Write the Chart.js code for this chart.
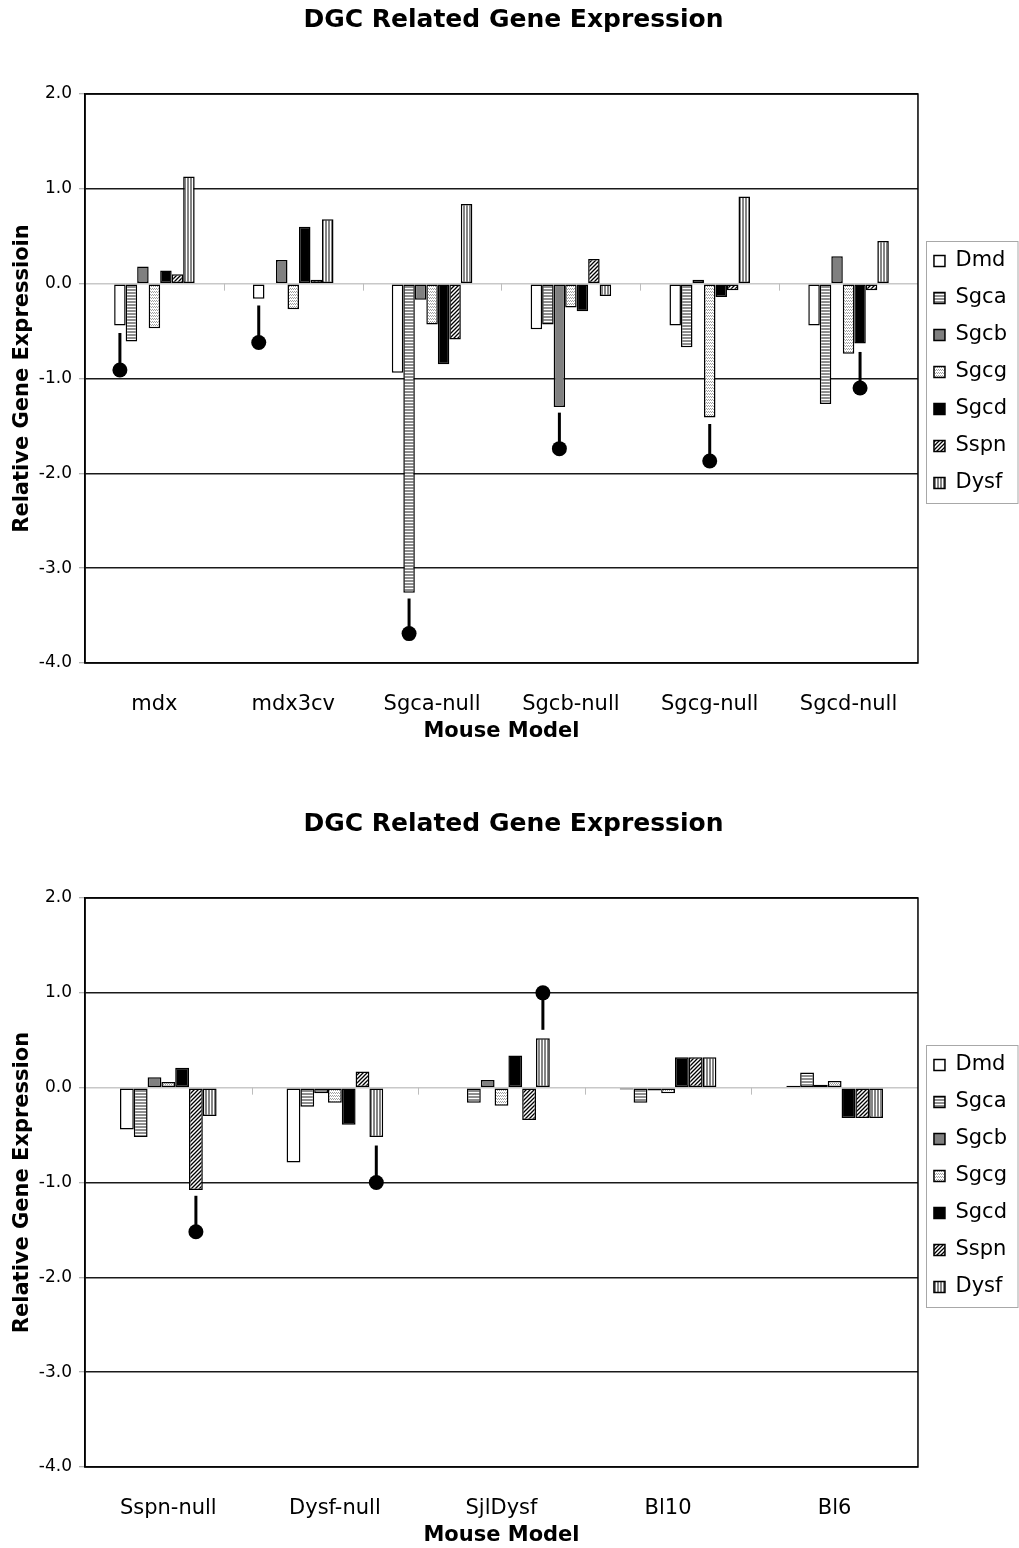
<!DOCTYPE html>
<html>
<head>
<meta charset="utf-8">
<script src="https://cdn.jsdelivr.net/npm/chart.js@4/dist/chart.umd.min.js"></script>
<style>
  html, body { margin: 0; padding: 0; background: #fff; overflow: hidden; }
  canvas { position: absolute; left: 0; }
</style>
</head>
<body>
<canvas id="topChart" width="1019" height="744" style="top:0"></canvas>
<canvas id="bottomChart" width="1019" height="744" style="top:804px"></canvas>
<script>
// gene series shown in each group
const genes = ['Dmd', 'Sgca', 'Sgcb', 'Sgcg', 'Sgcd', 'Sspn', 'Dysf'];

// y axis range / ticks
const yMin = -4;
const yMax = 2;
const yStep = 1;

// upper chart
const topCategories = ['mdx', 'mdx3cv', 'Sgca-null', 'Sgcb-null', 'Sgcg-null', 'Sgcd-null'];
const topDmd  = [-0.44, -0.16, -0.94, -0.48, -0.44, -0.44];
const topSgca = [-0.61,  0.00, -3.26, -0.43, -0.67, -1.27];
const topSgcb = [ 0.18,  0.25, -0.17, -1.30,  0.04,  0.29];
const topSgcg = [-0.47, -0.27, -0.43, -0.25, -1.41, -0.74];
const topSgcd = [ 0.14,  0.60, -0.85, -0.29, -0.14, -0.63];
const topSspn = [ 0.10,  0.04, -0.59,  0.26, -0.07, -0.07];
const topDysf = [ 1.13,  0.68,  0.84, -0.13,  0.92,  0.45];
// lollipop markers: which gene bar they hang from, dot value, where the stem starts
const topMarkerGene  = [0, 0, 1, 2, 3, 4];
const topMarkerValue = [-0.91, -0.62, -3.69, -1.74, -1.87, -1.10];
const topMarkerStart = [-0.52, -0.23, -3.32, -1.36, -1.48, -0.72];

// lower chart
const bottomCategories = ['Sspn-null', 'Dysf-null', 'SjlDysf', 'Bl10', 'Bl6'];
const bottomDmd  = [-0.44, -0.79,  0.00, -0.02,  0.02];
const bottomSgca = [-0.52, -0.20, -0.16, -0.16,  0.16];
const bottomSgcb = [ 0.11, -0.06,  0.08, -0.03,  0.03];
const bottomSgcg = [ 0.06, -0.16, -0.19, -0.06,  0.07];
const bottomSgcd = [ 0.21, -0.39,  0.34,  0.32, -0.32];
const bottomSspn = [-1.08,  0.17, -0.34,  0.32, -0.32];
const bottomDysf = [-0.30, -0.52,  0.52,  0.32, -0.32];
const bottomMarkerGene  = [5, 6, 6, -1, -1];
const bottomMarkerValue = [-1.52, -1.00, 1.00, null, null];
const bottomMarkerStart = [-1.14, -0.61, 0.61, null, null];

Chart.defaults.font.family = 'DejaVu Sans';
Chart.defaults.color = '#000';

function tile(ctx, w, h, draw) {
  const c = document.createElement('canvas');
  c.width = w; c.height = h;
  const g = c.getContext('2d');
  g.fillStyle = '#fff';
  g.fillRect(0, 0, w, h);
  draw(g);
  return ctx.createPattern(c, 'repeat');
}

function fills(ctx) {
  return [
    '#ffffff',
    tile(ctx, 1, 3, g => { g.fillStyle = '#8e8e8e'; g.fillRect(0, 1, 1, 2); }),
    '#808080',
    tile(ctx, 4, 3, g => {
      g.fillStyle = '#a0a0a0';
      g.fillRect(0, 0, 1, 1); g.fillRect(1, 1, 1, 1); g.fillRect(2, 0, 1, 1); g.fillRect(3, 1, 1, 1);
    }),
    '#000000',
    tile(ctx, 4, 4, g => {
      g.strokeStyle = '#000'; g.lineWidth = 1.3;
      g.beginPath();
      g.moveTo(-1, 5); g.lineTo(5, -1);
      g.moveTo(-1, 1); g.lineTo(1, -1);
      g.moveTo(3, 5); g.lineTo(5, 3);
      g.stroke();
    }),
    tile(ctx, 3, 1, g => { g.fillStyle = '#848484'; g.fillRect(1, 0, 2, 1); })
  ];
}

const framePlugin = {
  id: 'frame',
  beforeDatasetsDraw(chart) {
    const {ctx, scales: {x, y}} = chart;
    const y0 = y.getPixelForValue(0);
    ctx.save();
    ctx.strokeStyle = '#bdbdbd';
    ctx.lineWidth = 1;
    for (let i = 1; i < chart.data.labels.length; i++) {
      const px = Math.round((x.getPixelForValue(i - 1) + x.getPixelForValue(i)) / 2) + 0.5;
      ctx.beginPath();
      ctx.moveTo(px, y0);
      ctx.lineTo(px, y0 + 7);
      ctx.stroke();
    }
    ctx.restore();
  },
  afterDatasetsDraw(chart, args, opts) {
    const {ctx, chartArea: a, scales: {y}} = chart;
    ctx.save();
    ctx.strokeStyle = '#000';
    ctx.lineWidth = 1.5;
    ctx.strokeRect(a.left, a.top, a.right - a.left, a.bottom - a.top);
    // lollipop markers
    ctx.fillStyle = '#000';
    opts.gene.forEach((g, i) => {
      if (g < 0) return;
      const bar = chart.getDatasetMeta(g).data[i];
      const yDot = y.getPixelForValue(opts.value[i]);
      const yStart = y.getPixelForValue(opts.start[i]);
      ctx.lineWidth = 3;
      ctx.beginPath();
      ctx.moveTo(bar.x, yStart);
      ctx.lineTo(bar.x, yDot);
      ctx.stroke();
      ctx.beginPath();
      ctx.arc(bar.x, yDot, 7.5, 0, Math.PI * 2);
      ctx.fill();
    });
    ctx.restore();
  },
  afterDraw(chart) {
    const lg = chart.legend;
    const hb = lg.legendHitBoxes;
    if (!hb || !hb.length) return;
    const {ctx} = chart;
    const first = hb[0];
    const last = hb[hb.length - 1];
    ctx.save();
    ctx.strokeStyle = '#a8a8a8';
    ctx.lineWidth = 1;
    const left = Math.round(lg.left + 8) + 0.5;
    const top = Math.round(first.top - 10) + 0.5;
    const bottom = Math.round(last.top + last.height + 9) + 0.5;
    ctx.strokeRect(left, top, chart.width - 1 - left, bottom - top);
    ctx.restore();
  }
};

function makeChart(id, categories, series, markerGene, markerValue, markerStart, yTitle) {
  const canvas = document.getElementById(id);
  const ctx = canvas.getContext('2d');
  const patterns = fills(ctx);
  return new Chart(ctx, {
    type: 'bar',
    data: {
      labels: categories,
      datasets: genes.map((name, k) => ({
        label: name,
        data: series[k],
        backgroundColor: patterns[k],
        borderColor: '#000',
        borderWidth: 1.5,
        borderSkipped: false,
        categoryPercentage: 0.58,
        barPercentage: 1.0
      }))
    },
    options: {
      responsive: false,
      animation: false,
      devicePixelRatio: 1,
      layout: { padding: { left: 10, right: 2, top: 0, bottom: 0 } },
      plugins: {
        title: {
          display: true,
          text: 'DGC Related Gene Expression',
          font: { size: 25, weight: 'bold' },
          padding: { top: 5, bottom: 59 }
        },
        legend: {
          position: 'right',
          labels: {
            boxWidth: 11,
            boxHeight: 11,
            padding: 16,
            font: { size: 21 },
            color: '#000'
          }
        },
        tooltip: { enabled: false },
        frame: { gene: markerGene, value: markerValue, start: markerStart }
      },
      scales: {
        x: {
          grid: { display: false, drawTicks: false },
          border: { display: false },
          ticks: { font: { size: 21 }, padding: 29, color: '#000' },
          title: {
            display: true,
            text: 'Mouse Model',
            font: { size: 21, weight: 'bold' },
            padding: { top: 0, bottom: 0 }
          },
          afterFit(s) { s.height = 81; }
        },
        y: {
          min: yMin,
          max: yMax,
          ticks: {
            stepSize: yStep,
            font: { size: 17 },
            padding: 7,
            color: '#000',
            callback: v => v.toFixed(1)
          },
          grid: {
            color: c => (c.tick && c.tick.value === 0 ? '#c8c8c8' : '#1a1a1a'),
            lineWidth: 1.5,
            tickColor: '#9a9a9a',
            tickLength: 6,
            tickWidth: 1
          },
          border: { display: true, color: '#000', width: 1.5 },
          title: {
            display: true,
            text: yTitle,
            font: { size: 21, weight: 'bold' },
            padding: { top: 0, bottom: 0 }
          },
          afterFit(s) { s.width = 75; }
        }
      }
    },
    plugins: [framePlugin]
  });
}

makeChart('topChart', topCategories,
  [topDmd, topSgca, topSgcb, topSgcg, topSgcd, topSspn, topDysf],
  topMarkerGene, topMarkerValue, topMarkerStart, 'Relative Gene Expressioin');

makeChart('bottomChart', bottomCategories,
  [bottomDmd, bottomSgca, bottomSgcb, bottomSgcg, bottomSgcd, bottomSspn, bottomDysf],
  bottomMarkerGene, bottomMarkerValue, bottomMarkerStart, 'Relative Gene Expression');
</script>
</body>
</html>
